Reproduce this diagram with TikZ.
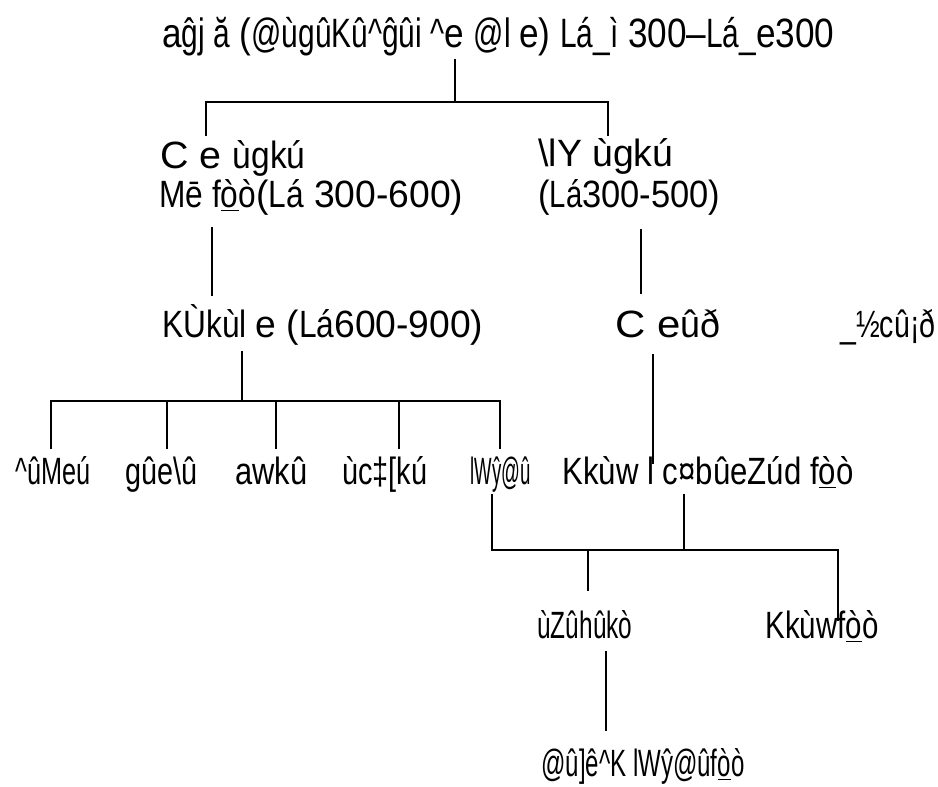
\documentclass[tikz,border=0pt]{standalone}
\usepackage{fontspec}
\usepackage{graphicx}
\setmainfont{Liberation Sans}
\newfontfamily\narr{Liberation Sans}[FakeStretch=0.85]

% one picture unit = 0.5pt
\newdimen\pxu \pxu=0.5pt
\newcommand\nw[1]{{\narr #1}}
\newcommand\lab[2]{\resizebox{#1\pxu}{\height}{#2}}
\newcommand\fo{\nw{f\underline{ò}ò}}

\begin{document}
\begin{tikzpicture}[x=0.5pt, y=-0.5pt,
  lbl/.style={anchor=base west, inner sep=0pt, font=\fontsize{19}{23}\selectfont},
  toplbl/.style={lbl, font=\fontsize{20.5}{25}\selectfont},
  conn/.style={line width=1.4pt, line cap=rect}]
\useasboundingbox (0,0) rectangle (938,787);

% ---- labels ----
\node[toplbl] (root) at (162,47) {\lab{672}{a\nw{ĝj ă} (\nw{@ùgûKû\textasciicircum ĝûi \textasciicircum}e \nw{@l }e) \nw{Lá\_ì} 300–\nw{Lá\_}e300}};

\node[lbl] (left1)  at (160,168) {\lab{145}{C e \nw{ùgkú}}};
\node[lbl] (left2)  at (159,207) {\lab{304}{\nw{Mē }\fo(\nw{Lá} 300-600)}};
\node[lbl] (right1) at (538,166) {\lab{135}{\nw{\textbackslash lY ùgkú}}};
\node[lbl] (right2) at (538,207) {\lab{182}{(\nw{Lá}300-500)}};

\node[lbl] (mid)    at (162,337) {\lab{321}{\nw{KÙkùl }e (\nw{Lá}600-900)}};
\node[lbl] (sub)    at (615,337) {\lab{105}{C e\nw{ûð}}};
\node[lbl] (aside)  at (840,337) {\lab{95}{\nw{\_½cû¡ð}}};

\node[lbl] (b1) at (15,484)  {\lab{75}{\nw{\textasciicircum ûMeú}}};
\node[lbl] (b2) at (125,484) {\lab{72}{\nw{gûe\textbackslash û}}};
\node[lbl] (b3) at (235,484) {\lab{72}{\nw{awkû}}};
\node[lbl] (b4) at (342,484) {\lab{85}{\nw{ùc‡[kú}}};
\node[lbl] (b5) at (470,484) {\lab{60}{\nw{lWŷ@û}}};
\node[lbl] (b6) at (562,484) {\lab{291}{\nw{Kkùw l c¤bûeZúd }\fo}};

\node[lbl] (c1) at (537,638) {\lab{95}{\nw{ùZûhûkò}}};
\node[lbl] (c2) at (765,638) {\lab{113}{\nw{Kkùw}\fo}};

\node[lbl] (d1) at (541,776) {\lab{203}{\nw{@û]ê\textasciicircum K lWŷ@û}\fo}};

% ---- junction points ----
\coordinate (rootT) at (455,60);
\coordinate (rootJ) at (455,102);
\coordinate (lJ)    at (206,102);
\coordinate (rJ)    at (608,102);
\coordinate (lT)    at (206,135);
\coordinate (rT)    at (608,135);

\coordinate (l2B)   at (212,228);
\coordinate (l2T)   at (212,295);
\coordinate (r2B)   at (641,230);
\coordinate (r2T)   at (641,293);

\coordinate (midB)  at (242,352);
\coordinate (midJ)  at (242,401);
\coordinate (bJ1)   at (51,401);
\coordinate (bJ5)   at (500,401);
\coordinate (bT1)   at (51,448);
\coordinate (bJ2)   at (167,401);
\coordinate (bT2)   at (167,448);
\coordinate (bJ3)   at (276,401);
\coordinate (bT3)   at (276,448);
\coordinate (bJ4)   at (399,401);
\coordinate (bT4)   at (399,448);
\coordinate (bT5)   at (500,448);

\coordinate (subB)  at (653,355);
\coordinate (subT)  at (653,463);

\coordinate (b5B)   at (492,495);
\coordinate (cJL)   at (492,550);
\coordinate (cJR)   at (838,550);
\coordinate (b6B)   at (684,495);
\coordinate (b6J)   at (684,550);
\coordinate (c1J)   at (588,550);
\coordinate (c1T)   at (588,590);
\coordinate (c2T)   at (838,620);

\coordinate (c1B)   at (606,652);
\coordinate (d1T)   at (606,730);

% ---- connectors ----
\draw[conn] (rootT) -- (rootJ);
\draw[conn] (lT) -- (lJ) -- (rJ) -- (rT);

\draw[conn] (l2B) -- (l2T);
\draw[conn] (r2B) -- (r2T);

\draw[conn] (midB) -- (midJ);
\draw[conn] (bT1) -- (bJ1) -- (bJ5) -- (bT5);
\draw[conn] (bJ2) -- (bT2);
\draw[conn] (bJ3) -- (bT3);
\draw[conn] (bJ4) -- (bT4);

\draw[conn] (subB) -- (subT);

\draw[conn] (b5B) -- (cJL) -- (cJR) -- (c2T);
\draw[conn] (b6B) -- (b6J);
\draw[conn] (c1J) -- (c1T);

\draw[conn] (c1B) -- (d1T);
\end{tikzpicture}
\end{document}
